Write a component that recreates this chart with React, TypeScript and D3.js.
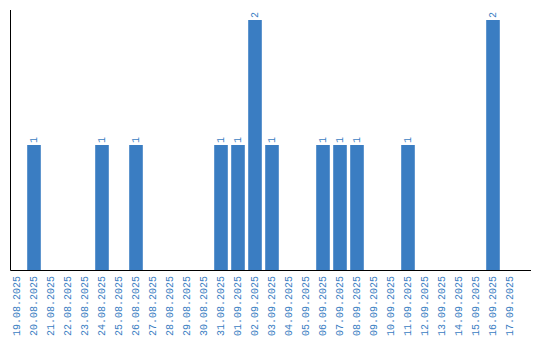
import React from "react";
import * as d3 from "d3";

const dates = [
  "19.08.2025", "20.08.2025", "21.08.2025", "22.08.2025", "23.08.2025",
  "24.08.2025", "25.08.2025", "26.08.2025", "27.08.2025", "28.08.2025",
  "29.08.2025", "30.08.2025", "31.08.2025", "01.09.2025", "02.09.2025",
  "03.09.2025", "04.09.2025", "05.09.2025", "06.09.2025", "07.09.2025",
  "08.09.2025", "09.09.2025", "10.09.2025", "11.09.2025", "12.09.2025",
  "13.09.2025", "14.09.2025", "15.09.2025", "16.09.2025", "17.09.2025",
];
const counts = [
  0, 1, 0, 0, 0, 1, 0, 1, 0, 0,
  0, 0, 1, 1, 2, 1, 0, 0, 1, 1,
  1, 0, 0, 1, 0, 0, 0, 0, 2, 0,
];
const yMax = 2.08;

const W = 540;
const H = 340;
const BLUE = "#3a7dc2";
const FONT = "'Liberation Mono', monospace";

export default function App() {
  const x = d3.scaleBand<string>().domain(dates).range([8.5, 518.5]).paddingInner(0.2).paddingOuter(0.1);
  const y = d3.scaleLinear().domain([0, yMax]).range([270, 10]);
  const bw = x.bandwidth();
  return (
    <svg width={W} height={H} style={{ position: "absolute", left: 0, top: 0 }}>
      <rect width={W} height={H} fill="#fff" />
      {dates.map((d, i) =>
        counts[i] > 0 ? (
          <g key={d}>
            <rect x={x(d)!} y={y(counts[i])} width={bw} height={y(0) - y(counts[i])} fill={BLUE} />
            <text
              transform={`translate(${x(d)! + bw / 2},${y(counts[i]) - 2}) rotate(-90)`}
              textAnchor="start"
              dominantBaseline="central"
              fontFamily={FONT}
              fontSize={10}
              fill={BLUE}
            >
              {counts[i]}
            </text>
          </g>
        ) : null
      )}
      <line x1={10.5} x2={10.5} y1={10} y2={270.5} stroke="#000" strokeWidth={1} />
      <line x1={10.5} x2={531} y1={270.5} y2={270.5} stroke="#000" strokeWidth={1} />
      {dates.map((d) => (
        <text
          key={"t" + d}
          transform={`translate(${x(d)! + bw / 2 + 0.5},${276}) rotate(-90)`}
          textAnchor="end"
          dominantBaseline="central"
          fontFamily={FONT}
          fontSize={10}
          fill={BLUE}
        >
          {d}
        </text>
      ))}
    </svg>
  );
}
